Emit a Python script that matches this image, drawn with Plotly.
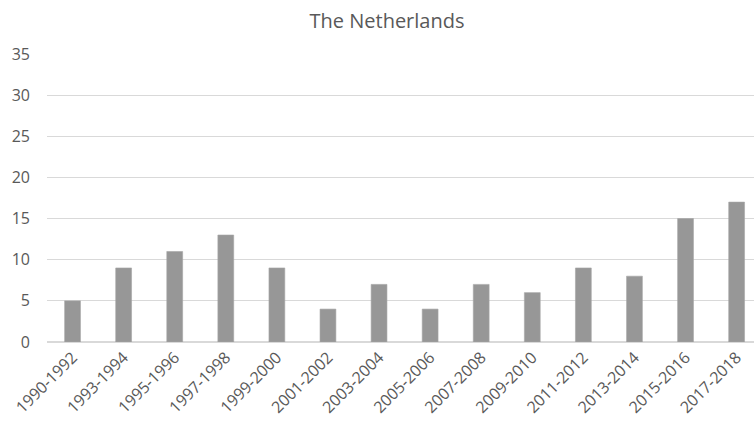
import plotly.graph_objects as go

# Reporting periods and counts per period
periods = ["1990-1992", "1993-1994", "1995-1996", "1997-1998", "1999-2000",
           "2001-2002", "2003-2004", "2005-2006", "2007-2008", "2009-2010",
           "2011-2012", "2013-2014", "2015-2016", "2017-2018"]
counts = [5, 9, 11, 13, 9, 4, 7, 4, 7, 6, 9, 8, 15, 17]
y_ticks = [0, 5, 10, 15, 20, 25, 30, 35]

text_color = "#595959"
font_family = "Open Sans"

fig = go.Figure(
    go.Bar(
        x=list(range(len(periods))),
        y=counts,
        marker=dict(color="#979797", line=dict(color="#a6a6a6", width=0.6)),
        width=0.31,
        hoverinfo="skip",
    )
)

fig.update_layout(
    width=754,
    height=433,
    margin=dict(l=47, r=0, t=54, b=91),
    paper_bgcolor="white",
    plot_bgcolor="white",
    showlegend=False,
    font=dict(family=font_family, color=text_color, size=16),
    title=dict(
        text="The Netherlands",
        x=387 / 754,
        xanchor="center",
        y=1 - 21 / 433,
        yanchor="middle",
        font=dict(family=font_family, size=20, color=text_color),
    ),
)

fig.update_xaxes(
    tickmode="array",
    tickvals=list(range(len(periods))),
    ticktext=periods,
    tickangle=-45,
    range=[-0.5, 13.34],
    showgrid=False,
    showline=False,
    zeroline=False,
    ticks="",
    ticklabelstandoff=2,
    tickfont=dict(size=16, color=text_color),
)

fig.update_yaxes(
    range=[0, 35],
    tickmode="array",
    tickvals=y_ticks,
    showgrid=True,
    gridcolor="#d9d9d9",
    gridwidth=1,
    zeroline=True,
    zerolinecolor="#d9d9d9",
    zerolinewidth=1.5,
    showline=False,
    ticks="",
    ticklabelstandoff=16,
    tickfont=dict(size=16, color=text_color),
)

fig.write_html("out.html")
